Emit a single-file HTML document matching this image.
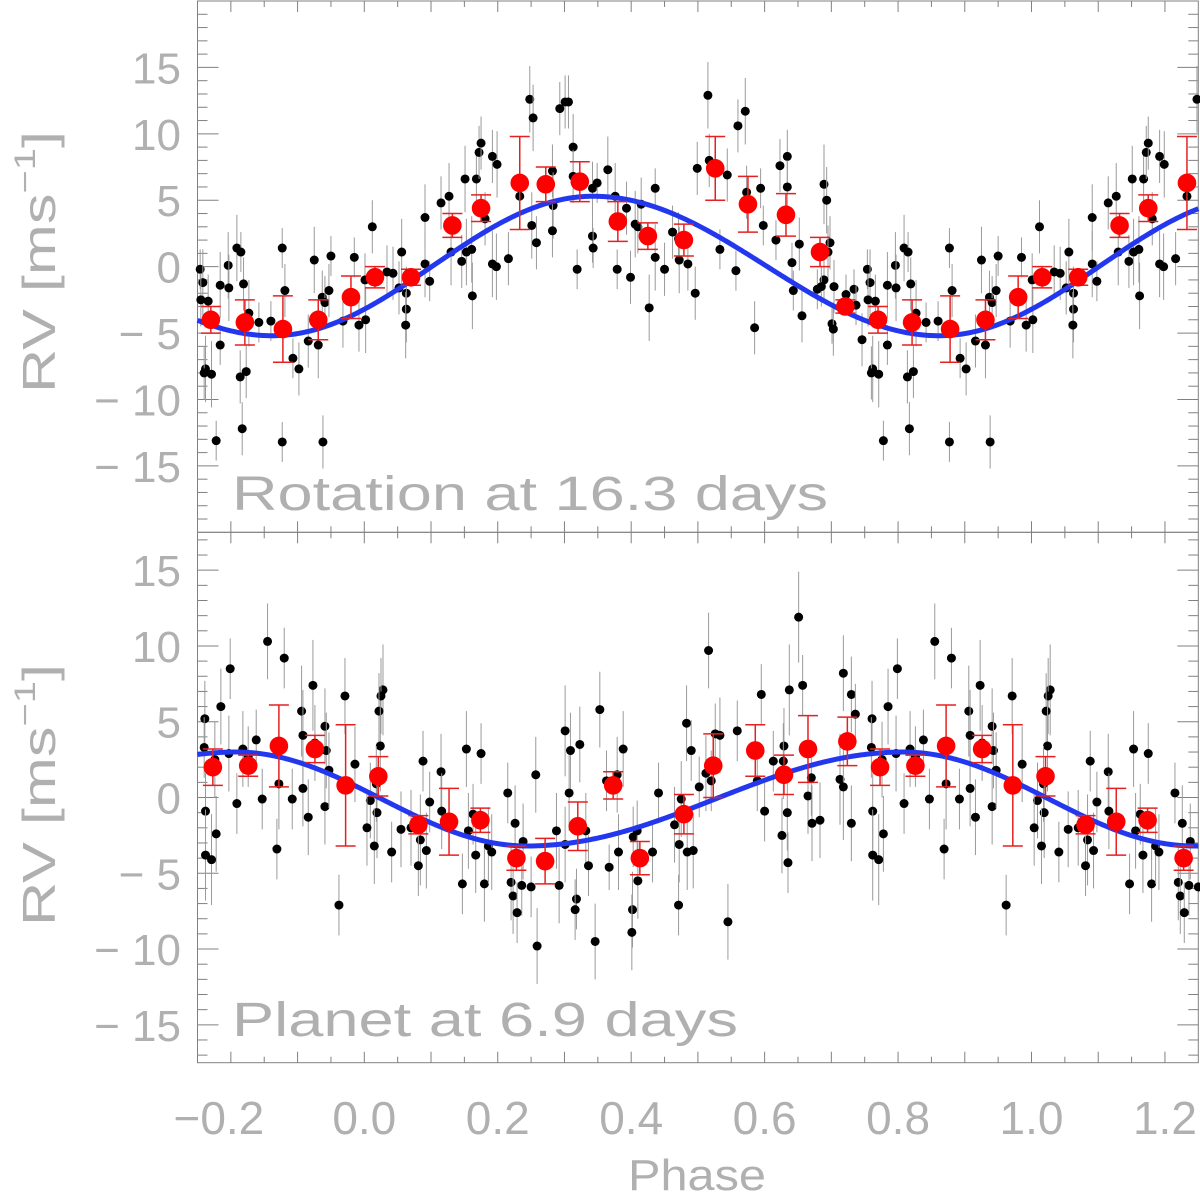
<!DOCTYPE html>
<html><head><meta charset="utf-8"><title>RV phase plots</title>
<style>
html,body{margin:0;padding:0;background:#fff;}
svg{display:block;}
text{font-family:"Liberation Sans",sans-serif;fill:#b0b0b0;}
</style></head>
<body>
<svg id="chart" width="1200" height="1196" viewBox="0 0 1200 1196" xmlns="http://www.w3.org/2000/svg">
<g id="g-top"></g>
<g id="g-bot"></g>
<text x="232" y="510" font-size="48" textLength="596" lengthAdjust="spacingAndGlyphs">Rotation at 16.3 days</text>
<text x="232" y="1036" font-size="48" textLength="506" lengthAdjust="spacingAndGlyphs">Planet at 6.9 days</text>
<text transform="translate(55,262) rotate(-90)" text-anchor="middle" font-size="46" textLength="262" lengthAdjust="spacingAndGlyphs">RV [ms<tspan font-size="30" dy="-20">−1</tspan><tspan dy="20">]</tspan></text>
<text transform="translate(55,795) rotate(-90)" text-anchor="middle" font-size="46" textLength="262" lengthAdjust="spacingAndGlyphs">RV [ms<tspan font-size="30" dy="-20">−1</tspan><tspan dy="20">]</tspan></text>
<text x="697" y="1190" text-anchor="middle" font-size="44" textLength="138" lengthAdjust="spacingAndGlyphs">Phase</text>
</svg>
<script>
// ---- data ----
const xTickLabels = [-0.2, 0.0, 0.2, 0.4, 0.6, 0.8, 1.0, 1.2];
const yTickLabels = [-15, -10, -5, 0, 5, 10, 15];
// model curve params: [phase of max, max value, phase of min, min value]
const topModel = [0.343, 5.3, 0.862, -5.2];
const botModel = [0.808, 3.0, 0.244, -3.2];
// binned (red) points: phase, value, error
const topBinPhase = [0.016,0.070,0.132,0.175,0.233,0.272,0.323,0.380,0.425,0.479,0.526,0.575,0.632,0.683,0.721,0.770,0.821,0.878,0.931,0.980];
const topBinValue = [-0.8,-0.8,3.1,4.4,6.3,6.2,6.4,3.4,2.3,2.0,7.4,4.7,3.9,1.1,-3.0,-4.0,-4.2,-4.7,-4.0,-2.3];
const topBinErr   = [0.8,0.6,0.9,1.0,3.5,1.3,1.5,1.5,1.0,1.2,2.4,2.1,1.6,1.1,0.5,1.0,1.7,2.5,1.5,1.6];
const botBinPhase = [0.021,0.081,0.127,0.174,0.228,0.271,0.320,0.373,0.413,0.479,0.523,0.586,0.629,0.665,0.724,0.773,0.826,0.872,0.926,0.972];
const botBinValue = [1.4,-1.8,-1.6,-1.5,-4.0,-4.2,-1.9,0.8,-4.0,-1.1,2.1,3.1,1.5,3.2,3.7,2.0,2.1,3.4,3.2,0.8];
const botBinErr   = [1.3,0.6,2.2,0.8,0.8,1.5,1.6,0.9,1.1,1.3,2.1,1.7,1.3,2.2,1.6,1.2,0.7,2.7,0.9,4.0];
// individual measurements: [phase, value, error]
const topPoints = [[.012,3.0,2],[.001,-1.0,2],[.002,-4.0,2.5],[.034,-0.4,2],[.043,-0.5,2],[.056,1.1,2.5],[.052,-1.6,2],[.063,-2.0,2],[.063,-3.2,2.5],[.062,-4.4,2.5],[.091,3.7,2.5],[.091,0.2,2.5],[.098,-1.1,1.5],[.115,4.8,2],[.127,5.3,2.5],[.130,1.1,2.5],[.146,0.4,2],[.151,6.6,2.5],[.153,1.1,2.5],[.161,1.3,2.5],[.162,-2.2,2.5],[.168,6.6,2],[.172,8.6,2],[.175,9.3,2],[.181,3.6,2],[.192,8.3,2],[.199,7.7,2.5],[.192,0.2,2.5],[.198,0.0,2.5],[.216,0.6,2],[.233,5.3,2],[.248,12.6,2.5],[.253,11.2,2.5],[.251,3.1,2.5],[.258,1.8,2],[.282,7.2,2],[.283,4.6,2.5],[.282,2.7,2],[.293,11.9,2],[.301,12.4,2],[.306,12.4,2],[.313,9.0,2.5],[.313,6.8,2],[.319,-0.2,1.5],[.342,5.9,2],[.342,2.3,2],[.343,1.4,1.5],[.349,6.3,1.5],[.365,7.3,2.5],[.376,5.3,2.5],[.379,-0.2,1.5],[.393,4.4,2],[.399,-0.8,2],[.406,3.2,2.5],[.410,3.0,2],[.415,4.7,2],[.427,-3.1,2.5],[.436,5.9,1.5],[.436,0.7,2.5],[.450,-0.2,2],[.462,2.6,2],[.471,2.1,2],[.472,0.5,2.5],[.485,0.2,2],[.496,-2.0,2],[.499,7.4,2],[.515,12.9,2.5],[.517,8.0,2],[.544,6.9,2],[.560,10.6,2],[.571,11.7,2.5],[.533,1.3,1.5],[.557,-0.3,1.5],[.573,5.6,2],[.594,5.9,1.5],[.598,3.1,1.5],[.585,-4.6,2],[.617,2.0,1.5],[.623,7.6,2],[.634,8.3,2],[.634,6.0,2],[.652,1.7,2],[.641,0.3,1.5],[.643,-1.8,1.5],[.656,-3.7,2],[.689,6.2,3],[.693,5.0,2.5],[.698,1.8,2],[.695,1.1,2],[.689,-1.0,1.5],[.679,-1.7,1.5],[.685,-1.5,1.5],[.704,-1.5,2],[.701,-4.3,1.5],[.703,-4.7,2],[.722,-2.1,1.5],[.734,-1.7,1.5],[.737,-2.9,1.5],[.754,-0.2,1.5],[.758,-1.2,2.5],[.755,-2.5,2],[.766,-2.6,2],[.746,-5.5,2],[.762,-7.7,2.5],[.760,-8.0,2],[.771,-8.1,2.5],[.778,-13.1,1.5],[.784,-5.9,1.5],[.784,-1.4,2.5],[.796,0.1,2.5],[.797,-1.6,2.5],[.809,1.4,2.5],[.815,1.1,1.5],[.819,-1.3,2],[.827,-3.5,2.5],[.814,-8.3,2],[.823,-7.9,2],[.817,-12.2,2],[.842,-4.2,1.5],[.860,-4.1,1.5],[.877,1.4,1.5],[.881,-1.8,2],[.877,-13.2,1.5],[.893,-6.9,1.5],[.902,-7.7,2],[.916,-5.6,2],[.925,0.5,2.5],[.931,-5.9,2.5],[.937,-2.3,2],[.941,-2.7,2],[.947,-1.8,2],[.950,0.8,1.5],[.938,-13.2,2],[.968,-4.1,2],[.985,0.7,1.5],[.992,-4.4,2]];
const botPoints = [[.028,7.1,3],[.025,6.7,2.5],[.022,5.7,2.5],[.024,3.4,3],[.018,0.9,2.5],[.009,-0.2,2.5],[.004,-2.0,2.5],[.019,-1.0,3],[.015,-3.2,2.5],[.041,-3.6,2],[.055,-2.1,2.5],[.070,-2.0,2.5],[.088,2.4,2],[.098,-0.3,2],[.084,-2.8,3],[.093,-3.5,2.5],[.081,-4.5,2],[.115,1.7,2.5],[.116,-0.9,2.5],[.153,3.2,2.5],[.175,2.9,2],[.163,-1.1,2],[.156,-2.2,2.5],[.167,-3.8,2.5],[.147,-5.7,2],[.180,-5.7,2.5],[.186,-3.2,2.5],[.191,-3.6,2.5],[.215,0.3,2],[.226,-1.7,2.5],[.238,-2.9,2.5],[.220,-5.6,2.5],[.236,-5.8,2],[.223,-6.5,2.5],[.229,-7.6,2],[.250,-5.9,2],[.257,1.5,2.5],[.259,-9.8,2.5],[.288,-2.2,2.5],[.292,-5.8,2.5],[.301,4.4,3],[.309,3.1,2.5],[.323,3.5,2.5],[.307,0.3,2.5],[.301,-3.1,2.5],[.332,-2.2,2.5],[.336,-4.5,2],[.318,-6.7,2],[.316,-7.4,2],[.353,5.8,2.5],[.346,-9.5,2.5],[.363,1.1,2],[.379,1.5,2.5],[.388,3.2,2.5],[.381,-3.6,2.5],[.367,-4.6,1.5],[.403,-2.6,2],[.409,-2.2,2],[.410,-5.5,2.5],[.402,-7.4,2.5],[.401,-8.9,2.5],[.432,-3.6,2],[.441,0.3,2],[.465,-1.8,2.5],[.472,-3.1,2.5],[.471,-7.1,2],[.483,4.9,2.5],[.490,3.1,2],[.475,-0.1,2.5],[.484,-3.6,2.5],[.493,-3.5,2.5],[.502,0.7,2],[.516,9.7,2.5],[.512,1.6,2.5],[.520,1.1,2],[.526,4.2,2],[.533,4.1,2.5],[.545,-8.2,2.5],[.559,4.4,2],[.589,1.1,2],[.595,6.8,2],[.600,-0.9,2],[.613,2.4,2],[.629,3.4,2.5],[.628,2.4,2.5],[.637,7.1,3],[.634,-1.0,2.5],[.626,-2.5,2.5],[.635,-4.3,2],[.651,11.9,3],[.657,7.4,2],[.670,1.3,2.5],[.665,0.1,2.5],[.671,-1.7,2.5],[.683,-1.5,2.5],[.713,1.2,3],[.718,0.7,3.5],[.718,8.2,2.5],[.730,6.8,2.5],[.736,5.5,2],[.730,-1.7,2.5],[.761,5.2,2.5],[.760,3.3,2],[.776,2.5,2.5],[.762,-0.9,2.5],[.778,-2.4,2.5],[.762,-3.8,3],[.771,-4.1,3],[.785,6.0,2.5],[.799,8.5,2],[.797,2.9,2.5],[.809,-0.4,2],[.818,3.2,2.5],[.826,2.7,2],[.838,3.8,2],[.847,-0.1,2],[.855,10.3,2.5],[.880,9.2,2],[.872,0.9,3],[.869,-3.4,2],[.892,-0.1,2],[.906,5.7,3],[.908,4.1,3],[.908,0.6,2.5],[.916,-1.3,2.5],[.923,7.4,3],[.926,3.6,2.5],[.941,4.7,2.5],[.943,3.1,2.5],[.941,-0.6,2.5],[.947,1.8,2.5],[.962,-7.1,2],[.971,6.7,2.5],[.986,2.2,2.5]];

// ---- layout ----
const NS = "http://www.w3.org/2000/svg";
const X0 = 197.5, X1 = 1198.3, PH0 = -0.25, PH1 = 1.25;
const xs = p => X0 + (p - PH0) / (PH1 - PH0) * (X1 - X0);
const panels = [
  {g: document.getElementById('g-top'), top: 1, bot: 532.3, vmax: 20, vmin: -20, pts: topPoints, bp: topBinPhase, bv: topBinValue, be: topBinErr, model: topModel, name: 'rotation'},
  {g: document.getElementById('g-bot'), top: 532.3, bot: 1062.7, vmax: 17.5, vmin: -17.5, pts: botPoints, bp: botBinPhase, bv: botBinValue, be: botBinErr, model: botModel, name: 'planet'}
];
function mk(tag, attrs, parent) {
  const el = document.createElementNS(NS, tag);
  for (const k in attrs) el.setAttribute(k, attrs[k]);
  parent.appendChild(el);
  return el;
}
function modelAt(m, p) {
  const [pmax, vmax, pmin, vmin] = m;
  const mid = (vmax + vmin) / 2, amp = (vmax - vmin) / 2;
  let f = ((p - pmax) % 1 + 1) % 1;
  const fall = ((pmin - pmax) % 1 + 1) % 1;
  if (f < fall) return mid + amp * Math.cos(Math.PI * f / fall);
  return mid - amp * Math.cos(Math.PI * (f - fall) / (1 - fall));
}
panels.forEach(P => {
  const ys = v => P.top + (P.vmax - v) / (P.vmax - P.vmin) * (P.bot - P.top);
  const g = P.g;
  const fr = mk('rect', {x: X0, y: P.top, width: X1 - X0, height: P.bot - P.top, fill: 'none', stroke: '#808080', 'stroke-width': 1}, g);
  
  
  for (let i = -5; i <= 25; i++) {
    const p = i * 0.05, x = xs(p);
    if (x < X0 + 0.5 || x > X1 - 0.5) continue;
    const len = (i % 2 === 0) ? 11 : 6;
    mk('line', {x1: x, x2: x, y1: P.top, y2: P.top + len, stroke: '#808080', 'stroke-width': 1}, g);
    mk('line', {x1: x, x2: x, y1: P.bot, y2: P.bot - len, stroke: '#808080', 'stroke-width': 1}, g);
  }
  for (let v = Math.ceil(P.vmin); v <= Math.floor(P.vmax); v++) {
    const y = ys(v);
    if (y < P.top + 0.5 || y > P.bot - 0.5) continue;
    const len = (v % 5 === 0) ? 21 : 10;
    mk('line', {x1: X0, x2: X0 + len, y1: y, y2: y, stroke: '#808080', 'stroke-width': 1}, g);
    mk('line', {x1: X1, x2: X1 - len, y1: y, y2: y, stroke: '#808080', 'stroke-width': 1}, g);
  }
  yTickLabels.forEach(v => {
    const t = mk('text', {x: 181, y: ys(v) + 16, 'text-anchor': 'end', 'font-size': 44}, g);
    
    
    t.textContent = v < 0 ? '− ' + Math.abs(v) : String(v);
  });
  P.pts.forEach(d => {
    [-1, 0, 1].forEach(k => {
      const p = d[0] + k;
      if (p < PH0 || p > PH1) return;
      const x = xs(p);
      const eb = mk('line', {x1: x, x2: x, y1: ys(d[1] + d[2]), y2: ys(d[1] - d[2]), stroke: '#9a9a9a', 'stroke-width': 1}, g);
      
      
      const c = mk('circle', {cx: x, cy: ys(d[1]), r: 4.5, fill: '#000'}, g);
      
      
    });
  });
  let dstr = '';
  for (let i = 0; i <= 600; i++) {
    const p = PH0 + (PH1 - PH0) * i / 600;
    dstr += (i ? 'L' : 'M') + xs(p).toFixed(2) + ' ' + ys(modelAt(P.model, p)).toFixed(2);
  }
  const cv = mk('path', {d: dstr, fill: 'none', stroke: '#2338ee', 'stroke-width': 5}, g);
  
  
  P.bp.forEach((bp, i) => {
    [-1, 0, 1].forEach(k => {
      const p = bp + k;
      if (p < PH0 || p > PH1) return;
      const x = xs(p), y1 = ys(P.bv[i] + P.be[i]), y2 = ys(P.bv[i] - P.be[i]);
      const eg = mk('g', {stroke: '#e62020', 'stroke-width': 1.5}, g);
      
      
      mk('line', {x1: x, x2: x, y1: y1, y2: y2}, eg);
      mk('line', {x1: x - 10, x2: x + 10, y1: y1, y2: y1}, eg);
      mk('line', {x1: x - 10, x2: x + 10, y1: y2, y2: y2}, eg);
      const c = mk('circle', {cx: x, cy: ys(P.bv[i]), r: 9.3, fill: '#ff0000'}, g);
      
      
    });
  });
});
const svg = document.getElementById('chart');
xTickLabels.forEach(v => {
  const t = mk('text', {x: xs(v) - (v < 0 ? 12 : 0), y: 1134, 'text-anchor': 'middle', 'font-size': 46}, svg);
  
  
  t.textContent = (v < 0 ? '−' : '') + Math.abs(v).toFixed(1);
});
</script>
</body></html>
